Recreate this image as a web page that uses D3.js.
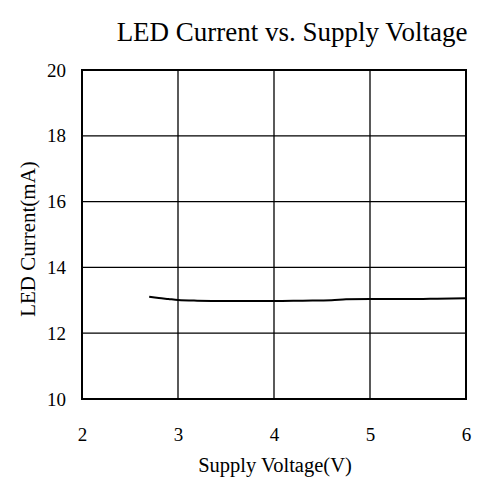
<!DOCTYPE html>
<html>
<head>
<meta charset="utf-8">
<script src="https://cdn.jsdelivr.net/npm/d3@7"></script>
<style>
  html, body { margin: 0; padding: 0; background: #fff; }
  svg { display: block; }
  svg text { font-family: "Liberation Serif", "Times New Roman", serif !important; fill: #000; }
</style>
</head>
<body>
<svg id="chart" width="488" height="480"></svg>
<script>
// Supply voltage (V) and measured LED current (mA)
const voltage = [2.7, 2.8, 2.9, 3.0, 3.2, 3.5, 4.0, 4.3, 4.6, 4.75, 5.0, 5.5, 5.7, 6.0];
const current = [13.11, 13.07, 13.04, 13.01, 12.99, 12.98, 12.98, 12.99, 13.00, 13.03, 13.04, 13.04, 13.05, 13.06];
const xTicks = [2, 3, 4, 5, 6];
const yTicks = [10, 12, 14, 16, 18, 20];
const title = "LED Current vs. Supply Voltage";
const xTitle = "Supply Voltage(V)";
const yTitle = "LED Current(mA)";

const svg = d3.select("#chart");
const m = { left: 82, right: 466, top: 70, bottom: 399 };

const x = d3.scaleLinear().domain([2, 6]).range([m.left, m.right]);
const y = d3.scaleLinear().domain([10, 20]).range([m.bottom, m.top]);

// grid lines
const grid = svg.append("g").attr("stroke", "#000").attr("stroke-width", 1.3);
grid.selectAll(".vx").data(xTicks.slice(1, -1)).join("line")
  .attr("x1", d => x(d)).attr("x2", d => x(d))
  .attr("y1", m.top).attr("y2", m.bottom);
grid.selectAll(".hy").data(yTicks.slice(1, -1)).join("line")
  .attr("y1", d => y(d)).attr("y2", d => y(d))
  .attr("x1", m.left).attr("x2", m.right);

// axes (labels only; frame drawn separately)
const xAxis = svg.append("g").attr("transform", `translate(0,${m.bottom})`)
  .call(d3.axisBottom(x).tickValues(xTicks).tickSize(0).tickPadding(29).tickFormat(d3.format("d")));
const yAxis = svg.append("g").attr("transform", `translate(${m.left},0)`)
  .call(d3.axisLeft(y).tickValues(yTicks).tickSize(0).tickPadding(16).tickFormat(d3.format("d")));
[xAxis, yAxis].forEach(a => {
  a.attr("font-family", null).attr("font-size", 19);
  a.select(".domain").remove();
  a.selectAll("text").attr("fill", "#000");
});

// plot frame
svg.append("rect")
  .attr("x", m.left).attr("y", m.top)
  .attr("width", m.right - m.left).attr("height", m.bottom - m.top)
  .attr("fill", "none").attr("stroke", "#000").attr("stroke-width", 2);

// current curve
const pts = voltage.map((v, i) => [v, current[i]]);
svg.append("path")
  .datum(pts)
  .attr("fill", "none").attr("stroke", "#000").attr("stroke-width", 2)
  .attr("d", d3.line().x(d => x(d[0])).y(d => y(d[1])).curve(d3.curveMonotoneX));

// titles
svg.append("text").attr("x", 292).attr("y", 41).attr("text-anchor", "middle")
  .attr("font-size", 27).text(title);
svg.append("text").attr("x", 275).attr("y", 472).attr("text-anchor", "middle")
  .attr("font-size", 20.5).text(xTitle);
svg.append("text").attr("transform", "translate(35,239) rotate(-90)").attr("text-anchor", "middle")
  .attr("font-size", 21).text(yTitle);
</script>
</body>
</html>
